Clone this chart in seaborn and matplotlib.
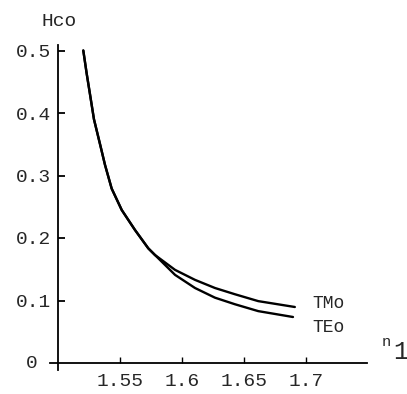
import pandas as pd
import matplotlib
matplotlib.use('Agg')
import matplotlib.pyplot as plt
import seaborn as sns

# values
n1_tm = [1.5204, 1.5231, 1.5258, 1.5290, 1.5344, 1.5379, 1.5433, 1.5514, 1.5621, 1.5728, 1.5782,
         1.5944, 1.6105, 1.6266, 1.6427, 1.6615, 1.6910]
hco_tm = [0.500, 0.4635, 0.430, 0.390, 0.346, 0.317, 0.279, 0.2448, 0.2128, 0.1835, 0.1728,
          0.149, 0.133, 0.120, 0.110, 0.099, 0.0896]
n1_te = [1.5204, 1.5231, 1.5258, 1.5290, 1.5344, 1.5379, 1.5433, 1.5514, 1.5621, 1.5728, 1.5782,
         1.5944, 1.6105, 1.6266, 1.6427, 1.6615, 1.6895]
hco_te = [0.500, 0.4635, 0.430, 0.390, 0.346, 0.317, 0.279, 0.2448, 0.2128, 0.1835, 0.1728,
          0.141, 0.120, 0.1045, 0.094, 0.083, 0.0736]
modes = ['TMo', 'TEo']

yticks = [0.1, 0.2, 0.3, 0.4, 0.5]
ytick_labels = ['0.1', '0.2', '0.3', '0.4', '0.5']
xticks = [1.55, 1.6, 1.65, 1.7]
xtick_labels = ['1.55', '1.6', '1.65', '1.7']

df = pd.concat([
    pd.DataFrame({'n1': n1_tm, 'Hco': hco_tm, 'mode': modes[0]}),
    pd.DataFrame({'n1': n1_te, 'Hco': hco_te, 'mode': modes[1]}),
])

sns.set_style('white')
plt.rcParams['font.family'] = ['Liberation Mono', 'DejaVu Sans Mono']

fig = plt.figure(figsize=(4.07, 3.94), dpi=100)
ax = fig.add_axes([50 / 407, 24 / 394, 317 / 407, 325 / 394])

sns.lineplot(data=df, x='n1', y='Hco', hue='mode', palette=['black', 'black'],
             linewidth=1.7, legend=False, ax=ax, sort=False)

ax.set_xlim(1.49355, 1.7492)
ax.set_ylim(-0.0112, 0.5088)

ax.spines['top'].set_visible(False)
ax.spines['right'].set_visible(False)
ax.spines['left'].set_position(('data', 1.5))
ax.spines['bottom'].set_position(('data', 0))
for s in ['left', 'bottom']:
    ax.spines[s].set_linewidth(1.3)
    ax.spines[s].set_color('black')

ax.set_yticks(yticks)
ax.set_yticklabels(ytick_labels)
ax.set_xticks(xticks)
ax.set_xticklabels(xtick_labels)
ax.tick_params(axis='y', left=True, direction='in', length=5, width=1.3, pad=5,
               labelsize=14, color='black')
ax.tick_params(axis='x', bottom=True, direction='in', length=4, width=1.0, pad=7,
               labelsize=14, color='black')
ax.set_xlabel('')
ax.set_ylabel('')

fig.text(38 / 407, 1 - 363 / 394, '0', ha='right', va='center', fontsize=14)
fig.text(59 / 407, 1 - 22 / 394, 'Hco', ha='center', va='center', fontsize=14)
fig.text(312 / 407, 1 - 304 / 394, 'TMo', ha='left', va='center', fontsize=13)
fig.text(312 / 407, 1 - 327 / 394, 'TEo', ha='left', va='center', fontsize=13)
fig.text(386 / 407, 1 - 342 / 394, 'n', ha='center', va='center', fontsize=11)
fig.text(401 / 407, 1 - 352 / 394, '1', ha='center', va='center', fontsize=18)

fig.savefig('out.png', dpi=100)
